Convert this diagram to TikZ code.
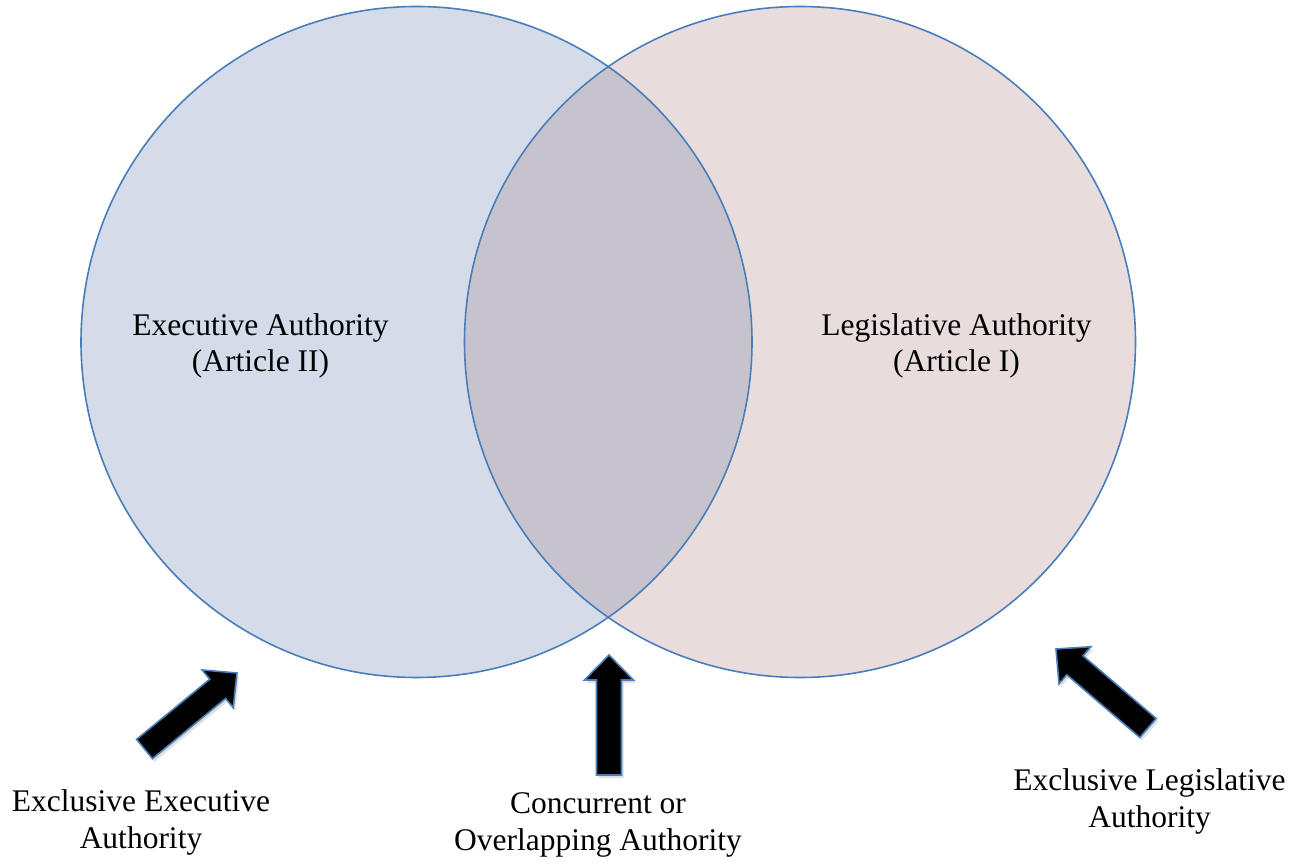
\documentclass[tikz,border=0pt]{standalone}
\usepackage{fontspec}
\setmainfont{Liberation Serif}
\usetikzlibrary{calc,shadows}
\definecolor{execfill}{HTML}{D3DCE8}
\definecolor{legfill}{HTML}{E8DCDC}
\definecolor{bothfill}{HTML}{C6C3CC}
\definecolor{ringblue}{HTML}{4A7EBB}
\newcommand\blockarr[2]{%
  \coordinate (#1b) at ($(#2)!25pt!(#1)$);
  \draw[blockarrow] ($(#1)!12.5pt!90:(#2)$) -- ($(#1b)!12.5pt!90:(#2)$) -- ($(#1b)!24.5pt!90:(#2)$) -- (#2)
     -- ($(#1b)!24.5pt!-90:(#2)$) -- ($(#1b)!12.5pt!-90:(#2)$) -- ($(#1)!12.5pt!-90:(#2)$) -- cycle;
}
\begin{document}
\begin{tikzpicture}[x=1pt,y=1pt,
  ring/.style={draw=ringblue, line width=1.6pt},
  blockarrow/.style={fill=black, draw=ringblue, line width=1.6pt, line join=miter,
     drop shadow={opacity=0.25, shadow xshift=2pt, shadow yshift=-3pt}},
  label/.style={align=center, anchor=base, inner sep=0pt, font=\fontsize{31.5}{36.5}\selectfont}]
\useasboundingbox (0,0) rectangle (1306,863);
\coordinate (cL) at (416.5,521);
\coordinate (cR) at (800,521);
% fills
\fill[execfill] (cL) circle[radius=335.5];
\fill[legfill] (cR) circle[radius=335.5];
\begin{scope}
  \clip (cL) circle[radius=335.5];
  \fill[bothfill] (cR) circle[radius=335.5];
\end{scope}
% outlines
\draw[ring] (cL) circle[radius=335.5];
\draw[ring] (cR) circle[radius=335.5];
% texts (anchor = baseline of the last line)
\node[label] (exec) at (260.5,491) {Executive Authority\\(Article II)};
\node[label] (legis) at (956.5,491) {Legislative Authority\\(Article I)};
\node[label] (exclE) at (141,15) {Exclusive Executive\\Authority};
\node[label] (conc) at (598,13) {Concurrent or\\Overlapping Authority};
\node[label] (exclL) at (1149.5,36) {Exclusive Legislative\\Authority};
% arrows
\coordinate (tA) at (144.5,114);
\coordinate (hA) at (237,190);
\coordinate (tB) at (609,88);
\coordinate (hB) at (609,208);
\coordinate (tC) at (1148,135);
\coordinate (hC) at (1056,214);
\blockarr{tA}{hA}
\blockarr{tB}{hB}
\blockarr{tC}{hC}
\end{tikzpicture}
\end{document}
